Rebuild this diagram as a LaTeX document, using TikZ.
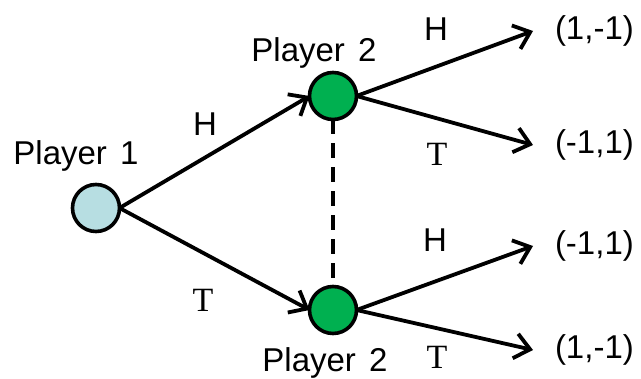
\documentclass[tikz,border=0pt]{standalone}
\usepackage{fontspec}
\setmainfont{Liberation Sans}
\newfontfamily\serifT{Liberation Serif}
\usetikzlibrary{arrows.meta}
\definecolor{pone}{HTML}{B7DEE2}
\definecolor{ptwo}{HTML}{00B050}
\begin{document}
\begin{tikzpicture}[x=1pt,y=-1pt,
  every node/.style={inner sep=0pt, outer sep=0pt},
  player/.style={circle, draw=black, line width=3.6pt, minimum size=47pt},
  lbl/.style={font=\fontsize{33}{38}\selectfont, anchor=base},
  slbl/.style={font=\serifT\fontsize{34}{38}\selectfont, anchor=base},
  term/.style={font=\fontsize{33}{38}\selectfont, anchor=west, inner xsep=22pt},
  move/.style={line width=3.8pt, -{Straight Barb[length=15pt,width=25pt,line width=3.8pt]}},
  info/.style={line width=3.8pt, dash pattern=on 15pt off 9pt}]
\useasboundingbox[fill=white] (0,0) rectangle (641,379);
% players
\node[player, fill=pone] (p1) at (96,208) {};
\node[player, fill=ptwo] (p2a) at (333,96) {};
\node[player, fill=ptwo] (p2b) at (333,310) {};
% player labels
\node[lbl] (l1) at (76,165) {Player\hspace{0.4em}1};
\node[lbl] (l2a) at (314,62) {Player\hspace{0.4em}2};
\node[lbl] (l2b) at (325,372) {Player\hspace{0.4em}2};
% payoffs
\node[term] (t1) at (533,31) {(1,-1)};
\node[term] (t2) at (533,145) {(-1,1)};
\node[term] (t3) at (533,246) {(-1,1)};
\node[term] (t4) at (533,350) {(1,-1)};
% move labels
\node[lbl] (h1) at (205,136) {H};
\node[slbl] (s1) at (203,312) {T};
\node[lbl] (h2) at (436,41) {H};
\node[slbl] (s2) at (437,166) {T};
\node[lbl] (h3) at (435,252) {H};
\node[slbl] (s3) at (437,369) {T};
% edges
\draw[move] (p1.east) -- (p2a.west);
\draw[move] (p1.east) -- (p2b.west);
\draw[move] (p2a.east) -- (t1.west);
\draw[move] (p2a.east) -- (t2.west);
\draw[move] (p2b.east) -- (t3.west);
\draw[move] (p2b.east) -- (t4.west);
\draw[info] (p2a.south) -- (p2b.north);
\end{tikzpicture}
\end{document}
